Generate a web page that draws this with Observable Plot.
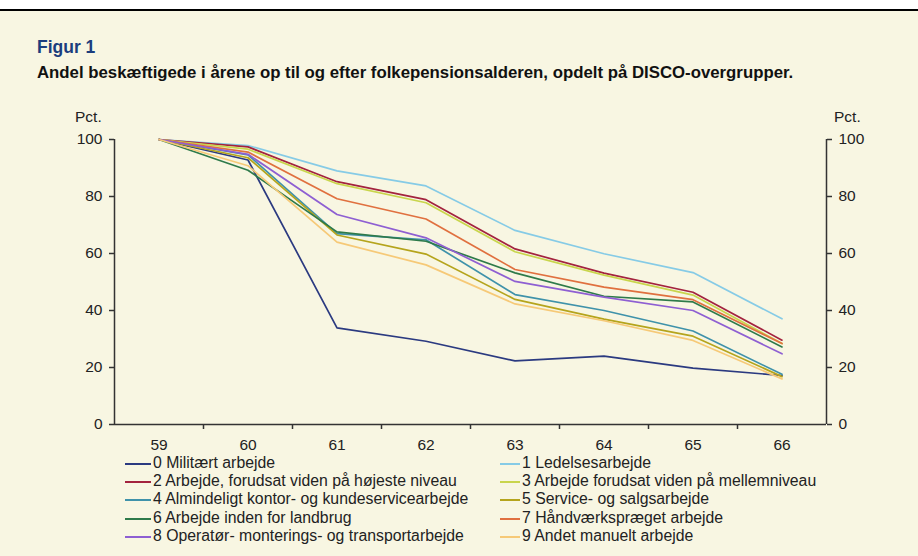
<!DOCTYPE html>
<html>
<head>
<meta charset="utf-8">
<script src="https://cdn.jsdelivr.net/npm/d3@7"></script>
<script src="https://cdn.jsdelivr.net/npm/@observablehq/plot@0.6"></script>
<style>
  html, body { margin: 0; padding: 0; }
  body { width: 918px; height: 556px; position: relative; overflow: hidden; background: #ffffff;
         font-family: "Liberation Sans", Arial, sans-serif; }
  #topline { position: absolute; left: 0; top: 9px; width: 918px; height: 1.5px; background: #000; }
  #panel { position: absolute; left: 0; top: 11px; width: 918px; height: 545px; background: #f8f6e2; }
  .abs { position: absolute; white-space: nowrap; }
  #fig { left: 37px; top: 37px; font-size: 17.5px; font-weight: bold; color: #1b3d7d; }
  #sub { left: 37px; top: 63px; font-size: 16.8px; font-weight: bold; color: #111; }
  .pct { top: 108px; font-size: 15.5px; color: #222; }
  #chart { position: absolute; left: 0; top: 100px; }
  .leg { font-size: 15.8px; color: #222; height: 18px; line-height: 18px; }
  .sw { position: absolute; top: 9px; height: 2px; }
</style>
</head>
<body>
<div id="topline"></div>
<div id="panel"></div>
<div class="abs" id="fig">Figur 1</div>
<div class="abs" id="sub">Andel beskæftigede i årene op til og efter folkepensionsalderen, opdelt på DISCO-overgrupper.</div>
<div class="abs pct" style="left:75px">Pct.</div>
<div class="abs pct" style="left:834px">Pct.</div>
<div id="chart"></div>
<div id="legend"></div>
<script>
const ages = [59, 60, 61, 62, 63, 64, 65, 66];
const yTicks = [0, 20, 40, 60, 80, 100];

const seriesNames = [
  "0 Militært arbejde",
  "1 Ledelsesarbejde",
  "2 Arbejde, forudsat viden på højeste niveau",
  "3 Arbejde forudsat viden på mellemniveau",
  "4 Almindeligt kontor- og kundeservicearbejde",
  "5 Service- og salgsarbejde",
  "6 Arbejde inden for landbrug",
  "7 Håndværkspræget arbejde",
  "8 Operatør- monterings- og transportarbejde",
  "9 Andet manuelt arbejde"
];
const seriesColors = ["#2b3a80", "#86cbe6", "#a3233e", "#c9d54c", "#3f92aa",
                      "#b5a41c", "#2e7a4a", "#e0703f", "#8e5fd2", "#f6c977"];

const s0 = [100, 92.8, 33.9, 29.2, 22.3, 24.0, 19.8, 17.2];
const s1 = [100, 97.9, 89.0, 83.7, 68.1, 59.9, 53.3, 37.1];
const s2 = [100, 97.4, 85.2, 78.9, 61.6, 53.1, 46.4, 29.6];
const s3 = [100, 96.6, 84.5, 77.8, 60.6, 52.4, 45.4, 28.4];
const s4 = [100, 94.6, 67.0, 64.8, 45.6, 40.0, 32.8, 17.6];
const s5 = [100, 93.6, 66.5, 59.8, 43.9, 37.0, 31.0, 16.8];
const s6 = [100, 89.2, 67.6, 64.3, 53.2, 45.0, 43.0, 27.2];
const s7 = [100, 95.6, 79.2, 72.1, 54.4, 48.2, 43.8, 28.4];
const s8 = [100, 94.8, 73.7, 65.5, 50.2, 44.7, 40.0, 24.8];
const s9 = [100, 90.8, 64.0, 56.0, 42.3, 36.4, 29.5, 16.0];

const allSeries = [s0, s1, s2, s3, s4, s5, s6, s7, s8, s9];
const rows = [];
allSeries.forEach((vals, i) => vals.forEach((v, j) => rows.push({age: ages[j], value: v, series: seriesNames[i]})));

const xLo = ages[0] - 0.5, xHi = ages[ages.length - 1] + 0.5;
const bounds = ages.slice(0, -1).map(a => a + 0.5);
const axisColor = "#333";

const chart = Plot.plot({
  width: 918,
  height: 352,
  marginTop: 39,
  marginBottom: 28,
  marginLeft: 114,
  marginRight: 92,
  style: {background: "transparent", fontSize: "15.5px", fontFamily: "'Liberation Sans', Arial, sans-serif", color: "#222"},
  x: {domain: [xLo, xHi]},
  y: {domain: [0, 100]},
  color: {domain: seriesNames, range: seriesColors},
  marks: [
    Plot.line(rows, {x: "age", y: "value", z: "series", stroke: "series", strokeWidth: 1.7}),
    Plot.ruleX([xLo, xHi], {stroke: axisColor, strokeWidth: 1.5}),
    Plot.ruleY([0], {stroke: axisColor, strokeWidth: 1.5}),
    Plot.axisY({anchor: "left", ticks: yTicks, tickSize: 5, tickPadding: 7, label: null, stroke: axisColor, strokeWidth: 1.5, fill: "#222"}),
    Plot.axisY({anchor: "right", ticks: yTicks, tickSize: 5, tickPadding: 7, label: null, stroke: axisColor, strokeWidth: 1.5, fill: "#222"}),
    Plot.axisX({ticks: ages, tickSize: 0, tickPadding: 14, tickFormat: d => String(d), label: null, fill: "#222"}),
    Plot.axisX({ticks: bounds, tickSize: 5, tickFormat: () => "", label: null, stroke: axisColor, strokeWidth: 1.5})
  ]
});
document.getElementById("chart").appendChild(chart);

// Legend: two columns
const legend = document.getElementById("legend");
seriesNames.forEach((name, i) => {
  const col = i % 2, row = Math.floor(i / 2);
  const swW = col === 0 ? 26 : 20;
  const el = document.createElement("div");
  el.className = "abs leg";
  el.style.left = (col === 0 ? 125 : 500) + "px";
  el.style.top = Math.round(454 + row * 18.2) + "px";
  el.style.paddingLeft = (swW + 2) + "px";
  const sw = document.createElement("span");
  sw.className = "sw";
  sw.style.left = "0px";
  sw.style.width = swW + "px";
  sw.style.background = seriesColors[i];
  el.appendChild(sw);
  el.appendChild(document.createTextNode(name));
  legend.appendChild(el);
});
</script>
</body>
</html>
